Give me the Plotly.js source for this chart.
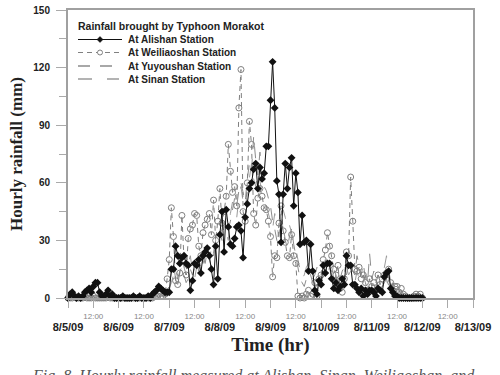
<!DOCTYPE html>
<html>
<head>
<meta charset="utf-8">
<script src="https://cdn.plot.ly/plotly-3.0.1.min.js"></script>
<style>html,body{margin:0;padding:0;background:#fff;}#chart{width:500px;height:375px;}</style>
</head>
<body>
<div id="chart"></div>
<script>
// Hourly rainfall (mm), starting 8/5/09 00:00, one value per hour (7 days + final hour)
const alishan = [
  0,2,3,1,0,1,0,1,3,4,5,3,6,8,8,3,1,1,2,4,1,2,0,0,
  0,0,1,0,0,0,0,1,0,0,1,0,0,0,1,0,2,3,4,6,5,4,3,3,
  3,15,15,27,22,18,21,22,18,17,4,9,18,17,20,13,22,24,26,22,15,7,27,10,
  33,45,24,46,37,28,27,31,37,38,35,21,42,49,57,60,67,70,57,68,62,65,79,79,
  103,123,99,61,54,29,54,70,57,68,73,48,65,55,28,43,29,30,14,28,14,4,2,9,
  7,17,13,18,18,10,5,8,4,6,10,7,22,17,17,7,7,5,3,5,1,4,2,4,
  4,3,1,5,4,3,11,13,14,5,3,1,1,0,0,0,0,0,0,0,0,0,0,0,
  0
];
const weiliaoshan = [
  0,0,0,1,0,0,0,0,1,0,0,0,1,0,0,0,0,0,0,1,0,0,0,0,
  0,0,0,0,0,0,0,0,0,0,0,0,0,0,0,0,0,1,1,2,1,1,2,10,
  20,47,32,9,7,13,43,20,12,31,36,38,44,43,27,22,34,38,41,44,33,51,30,40,
  57,39,45,53,80,66,55,58,48,99,119,45,40,60,92,80,44,38,52,57,53,47,46,40,
  32,11,22,21,39,48,35,29,22,21,33,22,18,1,0,1,0,2,4,1,2,8,1,10,
  12,20,25,34,27,22,15,12,17,5,3,10,24,22,63,40,15,14,16,10,12,8,4,10,
  6,8,4,12,7,10,12,13,15,8,4,6,6,3,5,2,1,0,0,0,1,2,1,2,
  0
];
const yuyoushan = [
  0,1,0,0,1,0,0,2,1,0,1,0,0,1,0,0,0,1,0,0,0,0,0,0,
  0,0,0,0,0,0,0,0,0,0,0,0,0,0,0,0,0,1,2,2,3,2,1,2,
  8,12,18,10,6,14,16,12,8,10,15,12,16,18,14,20,22,18,24,20,26,22,28,30,
  34,30,38,42,36,40,46,52,48,56,60,54,50,62,70,66,84,72,64,76,60,58,56,52,
  48,40,36,30,28,34,38,30,26,32,36,28,22,16,10,8,6,10,14,12,8,10,6,8,
  10,14,18,12,16,10,8,12,6,10,14,16,12,18,20,14,12,22,16,12,18,10,8,23,
  10,14,8,12,10,6,8,10,4,6,8,4,2,3,2,1,1,0,0,0,0,0,0,0,
  0
];
const sinan = [
  0,0,1,0,0,0,1,0,0,2,1,0,1,0,0,1,0,0,0,0,1,0,0,0,
  0,0,0,0,0,0,0,0,0,0,0,0,0,0,0,0,1,1,2,3,2,2,3,4,
  5,8,12,16,10,14,20,16,12,18,22,14,10,16,20,24,18,22,26,20,16,24,30,28,
  32,36,40,34,30,44,50,46,42,52,58,50,46,55,64,70,62,58,66,60,54,50,48,44,
  40,36,44,38,32,40,46,42,36,38,34,30,26,20,14,10,12,16,18,14,10,12,16,14,
  12,16,20,14,10,12,18,14,8,12,10,14,16,12,14,10,8,14,10,6,8,12,10,8,
  6,8,10,6,8,12,16,22,10,6,4,6,4,2,3,1,0,0,0,0,0,0,0,0,
  0
];
const seriesNames = ['At Alishan Station','At Weiliaoshan Station','At Yuyoushan Station','At Sinan Station'];
const legendTitle = 'Rainfall brought by Typhoon Morakot';
const dateLabels = ['8/5/09','8/6/09','8/7/09','8/8/09','8/9/09','8/10/09','8/11/09','8/12/09','8/13/09'];
const noonLabel = '12:00';
const yTicks = [0,30,60,90,120,150];
const yMinorTicks = [15,45,75,105,135];
const caption = 'Fig. 8. Hourly rainfall measured at Alishan, Sinan, Weiliaoshan, and';

function stamp(dayIdx, hour){
  const d = 5 + dayIdx;
  return '2009-08-' + String(d).padStart(2,'0') + ' ' + String(hour).padStart(2,'0') + ':00';
}
const times = alishan.map((_, i) => stamp(Math.floor(i/24), i%24));

// ticks every 12 h
const tickvals = [], ticktext = [];
dateLabels.forEach((lab, i) => {
  tickvals.push(stamp(i,0));
  ticktext.push('<br><span style="font-size:11px"><b>' + lab + '</b></span>');
  if (i < dateLabels.length-1){
    tickvals.push(stamp(i,12));
    ticktext.push('<span style="font-size:8px;color:#888">' + noonLabel + '</span>');
  }
});

const traces = [
  {x: times, y: sinan, name: seriesNames[3], mode:'lines',
   line:{color:'#9a9a9a', width:1, dash:'14px,15px'}, cliponaxis:false},
  {x: times, y: yuyoushan, name: seriesNames[2], mode:'lines',
   line:{color:'#8c8c8c', width:1, dash:'12px,10px'}, cliponaxis:false},
  {x: times, y: weiliaoshan, name: seriesNames[1], mode:'lines+markers',
   line:{color:'#808080', width:1, dash:'5px,4px'},
   marker:{symbol:'circle-open', size:6, color:'#808080', line:{width:1}}, cliponaxis:false},
  {x: times, y: alishan, name: seriesNames[0], mode:'lines+markers',
   line:{color:'#111', width:1},
   marker:{symbol:'diamond', size:6, color:'#111'}, cliponaxis:false}
];

function px2x(px){ return (px-68)/405; }
function py2y(py){ return (298-py)/288; }

const rowsY = [39.5, 52.5, 66, 79];
const shapes = [
  {type:'line', xref:'paper', yref:'paper', x0:px2x(78), x1:px2x(122), y0:py2y(rowsY[0]), y1:py2y(rowsY[0]), line:{color:'#111', width:1}},
  {type:'path', xref:'paper', yref:'paper', xsizemode:'pixel', ysizemode:'pixel', xanchor:px2x(100), yanchor:py2y(rowsY[0]),
   path:'M0,3 L3,0 L0,-3 L-3,0 Z', fillcolor:'#111', line:{color:'#111', width:0.5}},
  {type:'line', xref:'paper', yref:'paper', x0:px2x(78), x1:px2x(120), y0:py2y(rowsY[1]), y1:py2y(rowsY[1]), line:{color:'#808080', width:1, dash:'5px,4px'}},
  {type:'circle', xref:'paper', yref:'paper', xsizemode:'pixel', ysizemode:'pixel', xanchor:px2x(100), yanchor:py2y(rowsY[1]),
   x0:-2.5, x1:2.5, y0:-2.5, y1:2.5, fillcolor:'#fff', line:{color:'#808080', width:1}},
  {type:'line', xref:'paper', yref:'paper', x0:px2x(78), x1:px2x(112), y0:py2y(rowsY[2]), y1:py2y(rowsY[2]), line:{color:'#8c8c8c', width:1.5, dash:'12px,10px'}},
  {type:'line', xref:'paper', yref:'paper', x0:px2x(78), x1:px2x(119), y0:py2y(rowsY[3]), y1:py2y(rowsY[3]), line:{color:'#9a9a9a', width:1.5, dash:'14px,15px'}}
];

const legFont = {family:'Liberation Sans, Arial, sans-serif', size:10, color:'#222', weight:'bold'};
const annotations = [
  {xref:'paper', yref:'paper', x:px2x(76), y:py2y(26.5), xanchor:'left', yanchor:'middle', showarrow:false, text:legendTitle, font:Object.assign({}, legFont, {size:10.5})}
];
seriesNames.forEach((n, i) => annotations.push(
  {xref:'paper', yref:'paper', x:px2x(126), y:py2y(rowsY[i]), xanchor:'left', yanchor:'middle', showarrow:false, text:n, font:legFont}
));
annotations.push({xref:'paper', yref:'paper', x:px2x(30), y:py2y(365), xanchor:'left', yanchor:'top', showarrow:false,
  text:'<i>' + caption + '</i>', font:{family:'Liberation Serif, Times New Roman, serif', size:16, color:'#555'}});

const layout = {
  width:500, height:375,
  margin:{l:68, r:27, t:10, b:77},
  paper_bgcolor:'#fff', plot_bgcolor:'#fff',
  showlegend:false,
  xaxis:{
    type:'date', range:[stamp(0,0), stamp(8,0)],
    tickmode:'array', tickvals:tickvals, ticktext:ticktext, tickangle:0,
    ticks:'outside', ticklen:8, tickwidth:1, tickcolor:'#aaa',
    showline:true, linecolor:'#a0a0a0', linewidth:2, mirror:true,
    showgrid:false, zeroline:false,
    tickfont:{family:'Liberation Sans, Arial, sans-serif', size:9, color:'#222'},
    title:{text:'<b>Time (hr)</b>', font:{family:'Liberation Serif, Times New Roman, serif', size:19, color:'#222'}, standoff:6}
  },
  yaxis:{
    range:[0,150], tickmode:'array', tickvals:yTicks,
    ticks:'outside', ticklen:10, tickwidth:1, tickcolor:'#aaa',
    minor:{tickmode:'array', tickvals:yMinorTicks, ticks:'outside', ticklen:7, tickcolor:'#aaa', showgrid:false},
    showline:true, linecolor:'#a0a0a0', linewidth:2, mirror:true,
    showgrid:false, zeroline:false, ticklabelstandoff:4,
    tickfont:{family:'Liberation Sans, Arial, sans-serif', size:10, color:'#222', weight:'bold'},
    title:{text:'<b>Hourly rainfall (mm)</b>', font:{family:'Liberation Serif, Times New Roman, serif', size:17, color:'#222'}, standoff:6}
  },
  shapes:shapes,
  annotations:annotations
};

Plotly.newPlot('chart', traces, layout, {staticPlot:true, displayModeBar:false});
</script>
</body>
</html>
